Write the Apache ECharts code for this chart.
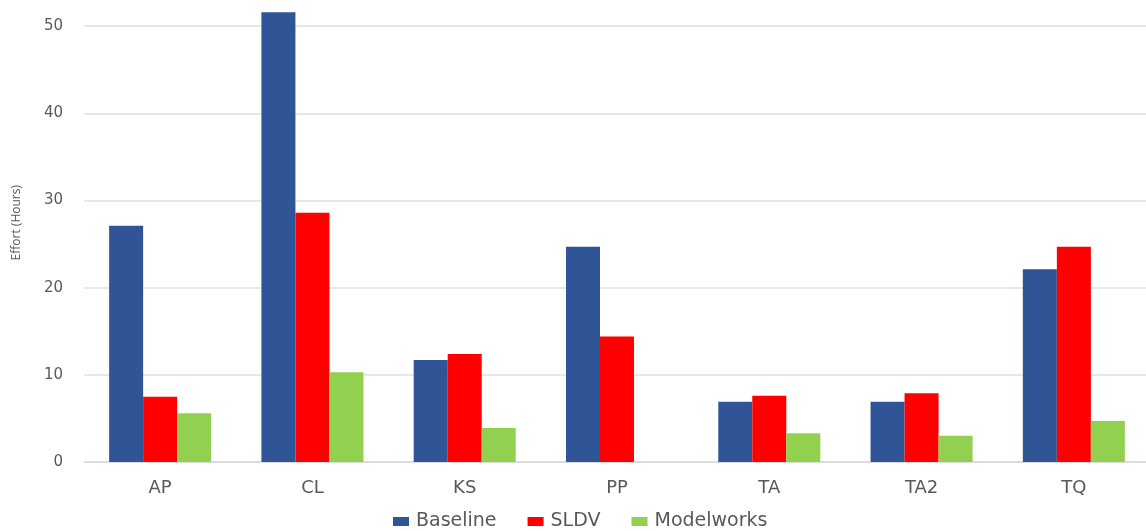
<!DOCTYPE html>
<html>
<head>
<meta charset="utf-8">
<script src="https://cdn.jsdelivr.net/npm/echarts@6/dist/echarts.min.js"></script>
<style>
  html, body { margin: 0; padding: 0; background: #fff; }
  #chart { width: 1146px; height: 531px; }
</style>
</head>
<body>
<div id="chart"></div>
<script>
// data
var categories = ['AP', 'CL', 'KS', 'PP', 'TA', 'TA2', 'TQ'];
var baseline = [27.1, 51.6, 11.7, 24.7, 6.9, 6.9, 22.1];
var sldv = [7.5, 28.6, 12.4, 14.4, 7.6, 7.9, 24.7];
var modelworks = [5.6, 10.3, 3.9, 0, 3.3, 3.0, 4.7];
var yTicks = [0, 10, 20, 30, 40, 50, 60];

// the reference is stretched sideways, so a wide face fits it best
var font = '"DejaVu Sans", "Open Sans", sans-serif';
var textGray = '#595959';

var chart = echarts.init(document.getElementById('chart'));

function bar(name, data, color) {
    return {
        name: name,
        type: 'bar',
        data: data,
        barGap: '0%',
        barCategoryGap: '33%',
        itemStyle: { color: color }
    };
}

chart.setOption({
    backgroundColor: '#fff',
    animation: false,
    grid: {
        left: 84, right: -4, top: -61, bottom: 69,
        containLabel: false,
        outerBoundsMode: 'none'
    },
    legend: {
        left: 393,
        top: 512,
        padding: 0,
        itemWidth: 16,
        itemHeight: 9,
        itemGap: 31,
        icon: 'rect',
        textStyle: { fontFamily: font, fontSize: 19, color: textGray, padding: [0, 0, 0, 2] },
        data: ['Baseline', 'SLDV', 'Modelworks']
    },
    xAxis: {
        type: 'category',
        data: categories,
        axisLine: { lineStyle: { color: '#d9d9d9', width: 1.5 } },
        axisTick: { show: false },
        axisLabel: { margin: 17, fontFamily: font, fontSize: 18, color: textGray }
    },
    yAxis: {
        type: 'value',
        min: yTicks[0],
        max: yTicks[yTicks.length - 1],
        interval: 10,
        axisLine: { show: false },
        axisTick: { show: false },
        splitLine: { lineStyle: { color: '#e0e0e0', width: 1.5 } },
        axisLabel: { margin: 21, fontFamily: font, fontSize: 15, color: textGray }
    },
    graphic: [{
        type: 'text',
        left: 11,
        top: 185,
        rotation: Math.PI / 2,
        style: {
            text: 'Effort (Hours)',
            font: '12px "Open Sans", sans-serif',
            fill: textGray
        }
    }],
    series: [
        bar('Baseline', baseline, '#2F5597'),
        bar('SLDV', sldv, '#FF0000'),
        bar('Modelworks', modelworks, '#92D050')
    ]
});
</script>
</body>
</html>
